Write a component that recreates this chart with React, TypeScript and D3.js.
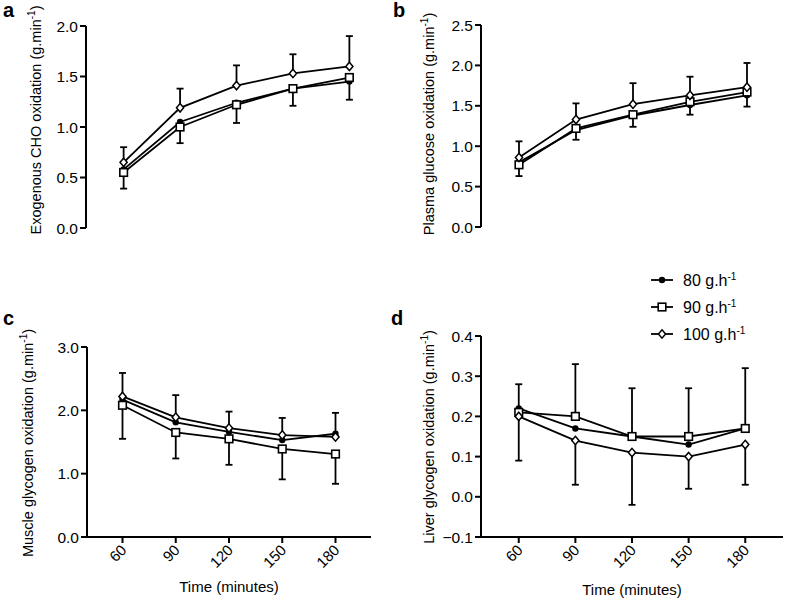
import React from 'react';
import * as d3 from 'd3';

// time points (minutes)
const times = [60, 90, 120, 150, 180];
const seriesNames = ['80', '90', '100'];

// a - exogenous CHO oxidation
const aMean80 = [0.58, 1.05, 1.24, 1.38, 1.45];
const aMean90 = [0.55, 1.0, 1.22, 1.38, 1.49];
const aMean100 = [0.65, 1.19, 1.41, 1.53, 1.6];
const aSdUp100 = [0.15, 0.19, 0.2, 0.19, 0.3];
const aSdDown90 = [0.16, 0.16, 0.18, 0.17, 0.22];

// b - plasma glucose oxidation
const bMean80 = [0.8, 1.2, 1.38, 1.51, 1.63];
const bMean90 = [0.77, 1.22, 1.39, 1.55, 1.67];
const bMean100 = [0.86, 1.33, 1.52, 1.63, 1.73];
const bSdUp100 = [0.2, 0.2, 0.26, 0.23, 0.3];
const bSdDown80 = [0.17, 0.12, 0.14, 0.12, 0.14];

// c - muscle glycogen oxidation
const cMean80 = [2.17, 1.81, 1.66, 1.53, 1.63];
const cMean90 = [2.08, 1.65, 1.55, 1.39, 1.31];
const cMean100 = [2.22, 1.89, 1.72, 1.61, 1.58];
const cSdUp100 = [0.37, 0.35, 0.26, 0.27, 0.38];
const cSdDown90 = [0.53, 0.41, 0.41, 0.48, 0.47];

// d - liver glycogen oxidation
const dMean80 = [0.22, 0.17, 0.15, 0.13, 0.17];
const dMean90 = [0.21, 0.2, 0.15, 0.15, 0.17];
const dMean100 = [0.2, 0.14, 0.11, 0.1, 0.13];
const dSdUp90 = [0.07, 0.13, 0.12, 0.12, 0.15];
const dSdDown100 = [0.11, 0.11, 0.13, 0.08, 0.1];

const FONT = 'Arial, "Liberation Sans", sans-serif';

function Marker({ kind, x, y }: { kind: string; x: number; y: number }) {
  if (kind === '80') return <circle cx={x} cy={y} r={3.2} fill="#000" />;
  if (kind === '90')
    return <rect x={x - 3.8} y={y - 3.8} width={7.6} height={7.6} fill="#fff" stroke="#000" strokeWidth={1.6} />;
  return (
    <path
      d={`M${x},${y - 4.2}L${x + 3.6},${y}L${x},${y + 4.2}L${x - 3.6},${y}Z`}
      fill="#fff"
      stroke="#000"
      strokeWidth={1.5}
    />
  );
}

function Panel(props: any) {
  const { letter, letterPos, axisX, xEnd, yTop, yBottom, domain, ticks, fmt, means, up, down, label, labelX, labelY, showX, timeY } = props;
  const x = d3.scaleLinear().domain([40, 200]).range([axisX, xEnd]);
  const y = d3.scaleLinear().domain(domain).range([yBottom, yTop]);
  const line = d3.line<number>().x((_, i) => x(times[i])).y((v) => y(v));
  const errBar = (vals: number[], sds: number[], dir: number, key: string) =>
    vals.map((v, i) => {
      const x0 = x(times[i]);
      const y1 = y(v + dir * sds[i]);
      return (
        <g key={key + i} stroke="#000" strokeWidth={1.8}>
          <line x1={x0} x2={x0} y1={y(v)} y2={y1} />
          <line x1={x0 - 3.5} x2={x0 + 3.5} y1={y1} y2={y1} />
        </g>
      );
    });
  return (
    <g>
      <text x={letterPos[0]} y={letterPos[1]} fontSize={20} fontWeight="bold" fontFamily={FONT}>
        {letter}
      </text>
      <text transform={`translate(${labelX},${labelY}) rotate(-90)`} textAnchor="middle" fontSize={14.5} fontFamily={FONT}>
        {label} (g.min<tspan dy={-6} fontSize={10}>-1</tspan>
        <tspan dy={6}>)</tspan>
      </text>
      {/* y axis */}
      <line x1={axisX} x2={axisX} y1={yTop} y2={yBottom} stroke="#000" strokeWidth={2} />
      {ticks.map((t: number) => (
        <g key={t}>
          <line x1={axisX - 6} x2={axisX} y1={y(t)} y2={y(t)} stroke="#000" strokeWidth={2} />
          <text x={axisX - 8} y={y(t)} dy="0.36em" textAnchor="end" fontSize={15.5} fontFamily={FONT}>
            {d3.format(fmt)(t)}
          </text>
        </g>
      ))}
      {showX && (
        <g>
          <line x1={axisX} x2={xEnd} y1={yBottom} y2={yBottom} stroke="#000" strokeWidth={2} />
          {times.map((t) => (
            <g key={t}>
              <line x1={x(t)} x2={x(t)} y1={yBottom} y2={yBottom + 6} stroke="#000" strokeWidth={2} />
              <text
                transform={`translate(${x(t) + 5},${yBottom + 14}) rotate(-45)`}
                textAnchor="end"
                fontSize={15}
                fontFamily={FONT}
              >
                {t}
              </text>
            </g>
          ))}
          <text x={(axisX + xEnd) / 2} y={timeY} textAnchor="middle" fontSize={15} fontFamily={FONT}>
            Time (minutes)
          </text>
        </g>
      )}
      {up && errBar(means[up.s], up.sd, 1, 'u')}
      {down && errBar(means[down.s], down.sd, -1, 'd')}
      {seriesNames.map((s) => (
        <path key={s} d={line(means[s]) || ''} fill="none" stroke="#000" strokeWidth={1.8} />
      ))}
      {seriesNames.map((s) =>
        means[s].map((v: number, i: number) => <Marker key={s + i} kind={s} x={x(times[i])} y={y(v)} />)
      )}
    </g>
  );
}

export default function App() {
  const legendY = d3.scalePoint().domain(seriesNames).range([280, 334]);
  return (
    <svg width={787} height={604} style={{ position: 'absolute', left: 0, top: 0, background: '#fff' }}>
      <rect width={787} height={604} fill="#fff" />
      <Panel
        letter="a"
        letterPos={[3, 17]}
        axisX={86}
        xEnd={387}
        yTop={26}
        yBottom={228}
        domain={[0, 2]}
        ticks={[0, 0.5, 1, 1.5, 2]}
        fmt=".1f"
        means={{ '80': aMean80, '90': aMean90, '100': aMean100 }}
        up={{ s: '100', sd: aSdUp100 }}
        down={{ s: '90', sd: aSdDown90 }}
        label="Exogenous CHO oxidation"
        labelX={41}
        labelY={120}
      />
      <Panel
        letter="b"
        letterPos={[393, 17]}
        axisX={481}
        xEnd={785}
        yTop={25}
        yBottom={227}
        domain={[0, 2.5]}
        ticks={[0, 0.5, 1, 1.5, 2, 2.5]}
        fmt=".1f"
        means={{ '80': bMean80, '90': bMean90, '100': bMean100 }}
        up={{ s: '100', sd: bSdUp100 }}
        down={{ s: '80', sd: bSdDown80 }}
        label="Plasma glucose oxidation"
        labelX={434}
        labelY={124}
      />
      <Panel
        letter="c"
        letterPos={[3, 325]}
        axisX={87}
        xEnd={371}
        yTop={347}
        yBottom={537}
        domain={[0, 3]}
        ticks={[0, 1, 2, 3]}
        fmt=".1f"
        means={{ '80': cMean80, '90': cMean90, '100': cMean100 }}
        up={{ s: '100', sd: cSdUp100 }}
        down={{ s: '90', sd: cSdDown90 }}
        label="Muscle glycogen oxidation"
        labelX={33}
        labelY={443}
        showX
        timeY={592}
      />
      <Panel
        letter="d"
        letterPos={[391, 325]}
        axisX={481}
        xEnd={783}
        yTop={336}
        yBottom={537}
        domain={[-0.1, 0.4]}
        ticks={[-0.1, 0, 0.1, 0.2, 0.3, 0.4]}
        fmt=".1f"
        means={{ '80': dMean80, '90': dMean90, '100': dMean100 }}
        up={{ s: '90', sd: dSdUp90 }}
        down={{ s: '100', sd: dSdDown100 }}
        label="Liver glycogen oxidation"
        labelX={434}
        labelY={437}
        showX
        timeY={595}
      />
      {/* legend */}
      {seriesNames.map((s) => {
        const ly = legendY(s) as number;
        return (
          <g key={s}>
            <line x1={651} x2={673} y1={ly} y2={ly} stroke="#000" strokeWidth={1.8} />
            <Marker kind={s} x={662} y={ly} />
            <text x={683} y={ly + 6} fontSize={16} fontFamily={FONT}>
              {s} g.h<tspan dy={-6} fontSize={10}>-1</tspan>
            </text>
          </g>
        );
      })}
    </svg>
  );
}
